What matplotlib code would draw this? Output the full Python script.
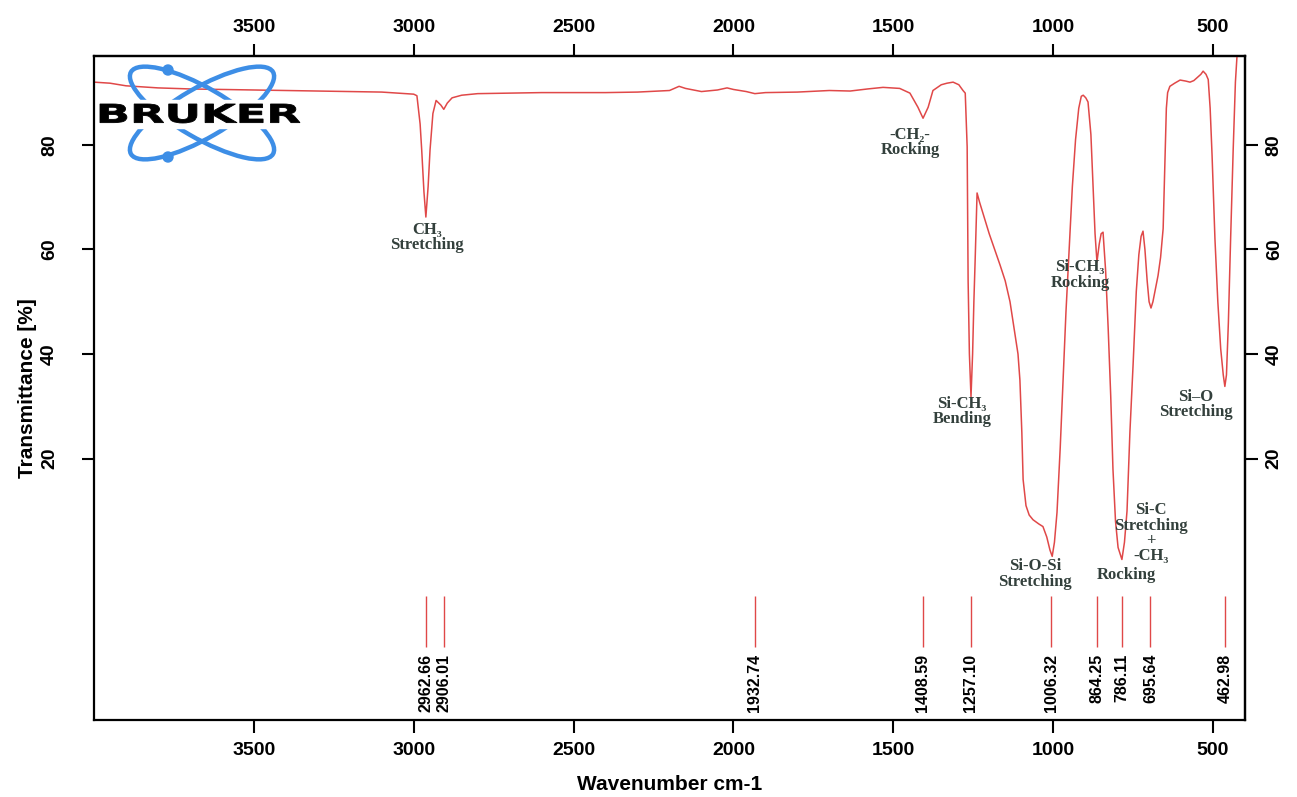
import numpy as np
import matplotlib
matplotlib.use("Agg")
import matplotlib.pyplot as plt
from matplotlib.patches import Ellipse, Circle, Rectangle, PathPatch
from matplotlib.textpath import TextPath
from matplotlib.font_manager import FontProperties
from matplotlib.transforms import Affine2D

# spectrum (wavenumber cm-1, transmittance %)
wavenumber = [4000, 3950, 3900, 3800, 3700, 3600, 3500, 3400, 3300, 3200, 3100, 3050,
              3000, 2990, 2980, 2975, 2968, 2962, 2955, 2949, 2940, 2930, 2915, 2906,
              2895, 2880, 2850, 2800, 2700, 2600, 2500, 2400, 2300, 2200, 2170, 2150,
              2100, 2050, 2020, 2000, 1960, 1933, 1900, 1800, 1700, 1635, 1580, 1532,
              1480, 1448, 1423, 1407, 1391, 1376, 1350, 1332, 1313, 1295, 1282, 1275,
              1269, 1266, 1262, 1257, 1252, 1248, 1244, 1238, 1230, 1215, 1200, 1180,
              1166, 1150, 1135, 1120, 1110, 1104, 1098, 1094, 1085, 1075, 1063, 1045,
              1032, 1020, 1010, 1003, 996, 988, 978, 969, 960, 950, 940, 930, 920, 912,
              906, 898, 891, 882, 875, 869, 863, 856, 850, 844, 836, 828, 820, 813, 805,
              797, 785, 777, 769, 760, 750, 740, 732, 725, 719, 713, 706, 700, 694, 688,
              680, 672, 664, 656, 650, 646, 642, 635, 620, 603, 585, 572, 560, 547, 538,
              531, 522, 515, 509, 503, 494, 485, 476, 468, 463, 458, 452, 445, 437, 430,
              424, 415, 400]
transmittance = [92.0, 91.8, 91.3, 90.9, 90.7, 90.6, 90.5, 90.4, 90.3, 90.2, 90.1, 89.9,
                 89.7, 89.4, 84.0, 79.0, 71.0, 66.2, 72.0, 79.0, 86.0, 88.5, 87.6, 86.8,
                 88.0, 89.0, 89.5, 89.8, 89.9, 90.0, 90.0, 90.0, 90.1, 90.4, 91.2, 90.8,
                 90.2, 90.5, 90.9, 90.6, 90.2, 89.8, 90.0, 90.1, 90.4, 90.3, 90.7, 91.0,
                 90.8, 89.9, 87.2, 85.1, 87.2, 90.4, 91.5, 91.8, 92.0, 91.5, 90.4, 89.9,
                 79.6, 54.0, 40.0, 31.8, 40.0, 50.0, 58.0, 70.8, 69.0, 66.0, 63.0, 59.5,
                 57.0, 54.0, 50.0, 44.0, 40.0, 35.0, 25.0, 16.0, 11.0, 9.2, 8.3, 7.5,
                 7.0, 5.0, 2.5, 1.3, 4.0, 9.7, 22.0, 35.0, 48.0, 60.0, 72.0, 81.0, 87.0, 89.3,
                 89.5, 89.0, 88.2, 82.0, 72.0, 63.0, 57.6, 61.0, 63.0, 63.3, 56.0, 45.0, 32.0,
                 18.0, 8.0, 3.0, 0.7, 4.0, 10.0, 25.0, 38.0, 52.0, 59.0, 62.5, 63.5, 60.0,
                 54.0, 50.0, 48.8, 50.0, 52.5, 55.0, 58.5, 64.0, 78.0, 87.0, 90.0, 91.2,
                 91.8, 92.4, 92.2, 92.0, 92.3, 93.0, 93.5, 94.1, 93.5, 92.5, 87.0, 78.0,
                 62.0, 50.0, 41.0, 36.0, 33.8, 36.0, 46.0, 62.0, 79.0, 92.0, 98.0, 104.0,
                 108.0]

# picked peaks
peak_positions = [2962.66, 2906.01, 1932.74, 1408.59, 1257.10, 1006.32,
                  864.25, 786.11, 695.64, 462.98]
peak_labels = ["2962.66", "2906.01", "1932.74", "1408.59", "1257.10", "1006.32",
               "864.25", "786.11", "695.64", "462.98"]

# band assignments: text, wavenumber, transmittance of text centre
band_texts = ["CH\u2083\nStretching", "-CH\u2082-\nRocking", "Si-CH\u2083\nBending",
              "Si-CH\u2083\nRocking", "Si\u2013O\nStretching", "Si-O-Si\nStretching",
              "Si-C\nStretching\n+\n-CH\u2083", "Rocking"]
band_x = [2958, 1448, 1285, 916, 553, 1057, 694, 772]
band_y = [62.3, 80.4, 29.0, 55.1, 30.4, -2.1, 5.7, -2.2]

xticks = [3500, 3000, 2500, 2000, 1500, 1000, 500]
yticks = [20, 40, 60, 80]

W, H = 1297, 797
red = "#e04848"
sans = ["Liberation Sans", "DejaVu Sans"]
serif = ["Liberation Serif", "DejaVu Serif"]

fig = plt.figure(figsize=(W / 100, H / 100), dpi=100)
ax = fig.add_axes([94 / W, 77 / H, 1151 / W, 664 / H])

ax.plot(wavenumber, transmittance, color=red, lw=1.1)
ax.set_xlim(4000, 400)
ax.set_ylim(-30, 97)

# peak pick marks and their labels
ax.vlines(peak_positions, -16.1, -6.2, color=red, lw=1.0)
for pos, lab in zip(peak_positions, peak_labels):
    ax.text(pos, -17.4, lab, rotation=90, ha="center", va="top",
            fontsize=11.5, fontweight="bold", family=sans)

for txt, x, y in zip(band_texts, band_x, band_y):
    ax.text(x, y, txt, ha="center", va="center", multialignment="center",
            fontsize=12, fontweight="bold", family=serif, color="#33403c",
            linespacing=0.95)

ax.set_xticks(xticks)
ax.set_yticks(yticks)
ax.tick_params(axis="x", direction="out", length=9, width=1.5, labelsize=14, pad=6.5)
ax.tick_params(axis="y", direction="out", length=9, width=1.5, labelsize=14, pad=17,
               labelrotation=90)
for s in ax.spines.values():
    s.set_linewidth(1.6)

# top and right axes repeat the scales
top = ax.secondary_xaxis("top")
top.set_xticks(xticks)
top.tick_params(direction="out", length=9, width=1.5, labelsize=14, pad=5.5)
right = ax.secondary_yaxis("right")
right.set_yticks(yticks)
right.tick_params(direction="out", length=9, width=1.5, labelsize=14, pad=6,
                  labelrotation=90)
for a in (top, right):
    for s in a.spines.values():
        s.set_linewidth(1.6)

for lab in (ax.get_xticklabels() + ax.get_yticklabels()
            + top.get_xticklabels() + right.get_yticklabels()):
    lab.set_family(sans)
    lab.set_fontweight("bold")
for lab in ax.get_yticklabels() + right.get_yticklabels():
    lab.set_va("center")

ax.set_xlabel("Wavenumber cm-1", fontsize=15, fontweight="bold", family=sans, labelpad=12)
ax.set_ylabel("Transmittance [%]", fontsize=15, fontweight="bold", family=sans, labelpad=3)

# Bruker logo in the upper left corner
logo = fig.add_axes([95 / W, (H - 168) / H, 215 / W, 110 / H])
logo.set_xlim(0, 215)
logo.set_ylim(0, 110)
logo.axis("off")
logo.patch.set_alpha(0)
blue = "#3d8ee6"
for ang in (30, -30):
    logo.add_patch(Ellipse((107, 55), 164, 50, angle=ang, fill=False, ec=blue, lw=3.2))
logo.add_patch(Circle((73, 98), 5, color=blue))
logo.add_patch(Circle((73, 11), 5, color=blue))
logo.add_patch(Rectangle((3, 40), 207, 28, color="white"))
tp = TextPath((0, 0), "BRUKER", size=1, prop=FontProperties(family="DejaVu Sans", weight="bold"))
bb = tp.get_extents()
tr = Affine2D().translate(-bb.x0, -bb.y0).scale(200 / bb.width, 19 / bb.height).translate(5, 45)
logo.add_patch(PathPatch(tr.transform_path(tp), fc="black", ec="black", lw=0.6))

fig.savefig("out.png", dpi=100)
